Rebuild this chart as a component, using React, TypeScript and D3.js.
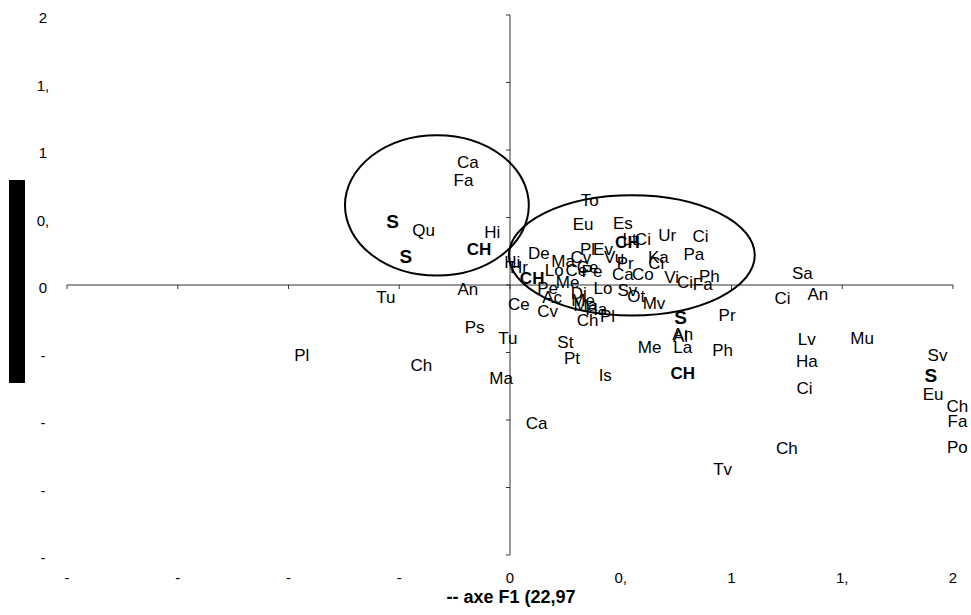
import React from 'react';
import * as d3 from 'd3';

// point labels (F1, F2 coordinates)
const labels = [
  'Ca', 'Fa', 'S', 'Qu', 'Hi', 'S', 'CH', 'An', 'Hi', 'Hr',
  'To', 'Eu', 'Es', 'Ur', 'Ci', 'Lt', 'CH', 'Ci', 'Pa', 'Ka',
  'Ci', 'Ph', 'Ci', 'Fa', 'Vi', 'Co', 'Ca', 'Pr', 'Vu', 'De',
  'Pl', 'Ev', 'Ma', 'Cv', 'Lo', 'Ce', 'Pe', 'Ce', 'CH', 'Me',
  'Lo', 'Sv', 'Ot', 'Mv', 'Pe', 'Ac', 'Ce', 'Cv', 'Di', 'Me',
  'Ma', 'Ha', 'Ch', 'Pl', 'S', 'An', 'Al', 'La', 'Me', 'CH',
  'Is', 'St', 'Pt', 'Tu', 'Ma', 'Ca', 'Ps', 'Ch', 'Pl', 'Tu',
  'Pr', 'Ph', 'Sa', 'Ci', 'An', 'Lv', 'Ha', 'Ci', 'Mu', 'Sv',
  'S', 'Eu', 'Ch', 'Fa', 'Po', 'Ch', 'Tv',
];
const f1 = [
  -0.19, -0.21, -0.53, -0.39, -0.08, -0.47, -0.14, -0.19, 0.01, 0.04,
  0.36, 0.33, 0.51, 0.71, 0.86, 0.54, 0.53, 0.60, 0.83, 0.67,
  0.66, 0.90, 0.79, 0.87, 0.73, 0.60, 0.51, 0.52, 0.47, 0.13,
  0.35, 0.42, 0.24, 0.32, 0.20, 0.30, 0.37, 0.35, 0.10, 0.26,
  0.42, 0.53, 0.57, 0.65, 0.17, 0.19, 0.04, 0.17, 0.31, 0.33,
  0.34, 0.39, 0.35, 0.44, 0.77, 0.78, 0.77, 0.78, 0.63, 0.78,
  0.43, 0.25, 0.28, -0.01, -0.04, 0.12, -0.16, -0.40, -0.94, -0.56,
  0.98, 0.96, 1.32, 1.23, 1.39, 1.34, 1.34, 1.33, 1.59, 1.93,
  1.90, 1.91, 2.02, 2.02, 2.02, 1.25, 0.96,
];
const f2 = [
  0.91, 0.78, 0.47, 0.41, 0.39, 0.21, 0.27, -0.03, 0.17, 0.13,
  0.63, 0.45, 0.46, 0.37, 0.36, 0.34, 0.32, 0.34, 0.23, 0.21,
  0.16, 0.07, 0.02, 0.01, 0.06, 0.08, 0.08, 0.16, 0.21, 0.24,
  0.27, 0.27, 0.18, 0.21, 0.11, 0.11, 0.10, 0.13, 0.05, 0.02,
  -0.02, -0.04, -0.08, -0.13, -0.02, -0.09, -0.14, -0.19, -0.06, -0.11,
  -0.15, -0.18, -0.26, -0.23, -0.24, -0.36, -0.38, -0.46, -0.46, -0.65,
  -0.67, -0.42, -0.54, -0.39, -0.69, -1.02, -0.31, -0.59, -0.52, -0.09,
  -0.22, -0.48, 0.09, -0.10, -0.07, -0.40, -0.56, -0.76, -0.39, -0.52,
  -0.67, -0.81, -0.90, -1.01, -1.20, -1.21, -1.36,
];

// groups circled on the map: centre and radii in axis units
const groupCx = [-0.33, 0.55];
const groupCy = [0.59, 0.22];
const groupRx = [0.415, 0.555];
const groupRy = [0.52, 0.445];

const xTicks = [-2, -1.5, -1, -0.5, 0, 0.5, 1, 1.5, 2];
const xTickLabels = ['-', '-', '-', '-', '0', '0,', '1', '1,', '2'];
const yTicks = [2, 1.5, 1, 0.5, 0, -0.5, -1, -1.5, -2];
const yTickLabels = ['2', '1,', '1', '0,', '0', '-', '-', '-', '-'];
const xTitle = '-- axe F1 (22,97';

const W = 971;
const H = 615;

export default function App() {
  const x = d3.scaleLinear().domain([-2, 2]).range([67, 953]);
  const y = d3.scaleLinear().domain([-2, 2]).range([555, 15]);
  const font = 'Arial, "Liberation Sans", sans-serif';

  return (
    <svg width={W} height={H} style={{ position: 'absolute', left: 0, top: 0, background: '#fff' }}
      fontFamily={font}>
      {/* y axis title shows as a solid bar in the original */}
      <rect x={9} y={180} width={16} height={203} fill="#000" />

      {/* horizontal axis */}
      <line x1={x(-2)} x2={x(2)} y1={y(0)} y2={y(0)} stroke="#333" strokeWidth={1} />
      {xTicks.map((t, i) => (
        <line key={'xt' + i} x1={x(t)} x2={x(t)} y1={y(0)} y2={y(0) + 4} stroke="#333" />
      ))}
      {/* vertical axis */}
      <line x1={x(0)} x2={x(0)} y1={y(2)} y2={y(-2)} stroke="#333" strokeWidth={1} />
      {yTicks.map((t, i) => (
        <line key={'yt' + i} x1={x(0) - 4} x2={x(0)} y1={y(t)} y2={y(t)} stroke="#333" />
      ))}

      {xTickLabels.map((s, i) => (
        <text key={'xl' + i} x={x(xTicks[i])} y={583} textAnchor="middle" fontSize={15}>{s}</text>
      ))}
      {yTickLabels.map((s, i) => (
        <text key={'yl' + i} x={43} y={y(yTicks[i]) + 3} dy="0.35em" textAnchor="middle" fontSize={15}>{s}</text>
      ))}
      <text x={511} y={603} textAnchor="middle" fontSize={18} fontWeight="bold">{xTitle}</text>

      {/* circled groups */}
      {groupCx.map((c, i) => (
        <ellipse key={'g' + i} cx={x(c)} cy={y(groupCy[i])}
          rx={x(groupRx[i]) - x(0)} ry={y(0) - y(groupRy[i])}
          fill="none" stroke="#000" strokeWidth={2} />
      ))}

      {/* point labels */}
      {labels.map((s, i) => {
        const bold = s === 'S' || s === 'CH';
        return (
          <text key={'p' + i} x={x(f1[i])} y={y(f2[i])} dy="0.35em" textAnchor="middle"
            fontSize={s === 'S' ? 19 : bold ? 17 : 17} fontWeight={bold ? 'bold' : 'normal'}>
            {s}
          </text>
        );
      })}
    </svg>
  );
}
